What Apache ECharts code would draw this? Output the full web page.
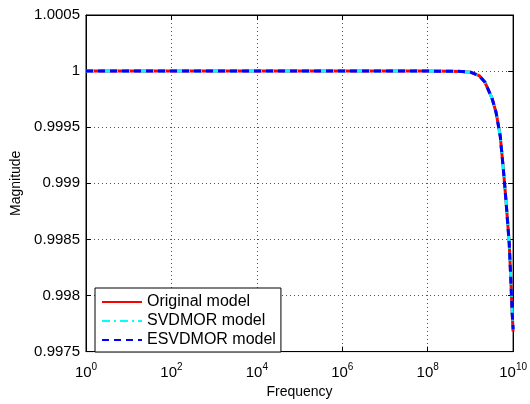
<!DOCTYPE html>
<html>
<head>
<meta charset="utf-8">
<script src="https://cdn.jsdelivr.net/npm/echarts@6/dist/echarts.min.js"></script>
<style>
html, body { margin: 0; padding: 0; background: #fff; }
#main { width: 530px; height: 404px; }
</style>
</head>
<body>
<div id="main"></div>
<script>
// frequencies (Hz) and magnitudes
var freq = [1, 10, 100, 1e3, 1e4, 1e5, 1e6, 1e7, 1e8, 3.2e8, 6.3e8, 1e9, 1.6e9, 2.2e9,
  3.2e9, 4e9, 5e9, 5.9e9, 6.9e9, 8.1e9, 8.9e9, 9.5e9, 1e10];
var original = [1, 1, 1, 1, 1, 1, 1, 1, 1, 0.999999, 0.999997, 0.99999, 0.99996, 0.99990,
  0.99976, 0.99963, 0.99942, 0.99913, 0.99882, 0.99847, 0.99812, 0.99785, 0.99768];
var svdmor = [1, 1, 1, 1, 1, 1, 1, 1, 1, 0.999999, 0.999997, 0.99999, 0.99996, 0.99990,
  0.99976, 0.99963, 0.99942, 0.99913, 0.99882, 0.99847, 0.99812, 0.99785, 0.99770];
var esvdmor = [1, 1, 1, 1, 1, 1, 1, 1, 1, 0.999999, 0.999997, 0.99999, 0.99996, 0.99990,
  0.99976, 0.99963, 0.99942, 0.99913, 0.99882, 0.99847, 0.99812, 0.99785, 0.99770];
var seriesNames = ['Original model', 'SVDMOR model', 'ESVDMOR model'];

var chart = echarts.init(document.getElementById('main'));
var font = 'Liberation Sans, Arial, sans-serif';

function pairs(vals) {
  return freq.map(function (f, i) { return [f, vals[i]]; });
}

var tick = { show: true, inside: true, length: 5, lineStyle: { color: '#000', width: 1 } };
var dotted = { show: true, lineStyle: { color: '#555', type: [1, 3], width: 1 } };

var option = {
  backgroundColor: '#fff',
  animation: false,
  textStyle: { fontFamily: font },
  grid: { left: 86, right: 15, top: 15, bottom: 47, show: true, borderColor: '#000', borderWidth: 1 },
  legend: {
    data: seriesNames.map(function (n) { return { name: n, itemStyle: { opacity: 0 } }; }),
    orient: 'vertical',
    left: 95, top: 288,
    itemWidth: 40, itemHeight: 14,
    itemGap: 3,
    padding: [6, 5, 4, 6],
    backgroundColor: '#fff',
    borderColor: '#000', borderWidth: 1,
    textStyle: { fontFamily: font, fontSize: 16, color: '#000' }
  },
  xAxis: [{
    type: 'log', logBase: 10,
    min: 1, max: 1e10, interval: 2,
    name: 'Frequency', nameLocation: 'middle', nameGap: 31,
    nameTextStyle: { fontSize: 14, color: '#000', fontFamily: font },
    axisLine: { show: true, lineStyle: { color: '#000', width: 1 } },
    axisTick: tick,
    minorTick: { show: false },
    splitLine: dotted,
    axisLabel: {
      color: '#000', fontSize: 15, margin: 11,
      formatter: function (v) {
        var e = Math.round(Math.log10(v));
        return '{b|10}{s|' + e + '}';
      },
      rich: {
        b: { fontSize: 15, color: '#000', fontFamily: font },
        s: { fontSize: 10, color: '#000', fontFamily: font, padding: [0, 0, 10, 0] }
      }
    }
  }, {
    type: 'log', logBase: 10, position: 'top',
    min: 1, max: 1e10, interval: 2,
    axisLine: { show: true, lineStyle: { color: '#000' } },
    axisTick: tick, axisLabel: { show: false }, splitLine: { show: false }
  }],
  yAxis: [{
    type: 'value',
    min: 0.9975, max: 1.0005, interval: 0.0005,
    name: 'Magnitude', nameLocation: 'middle', nameGap: 56,
    nameTextStyle: { fontSize: 14, color: '#000', fontFamily: font },
    axisLine: { show: true, lineStyle: { color: '#000', width: 1 } },
    axisTick: tick,
    splitLine: dotted,
    axisLabel: {
      color: '#000', fontSize: 15, margin: 6, fontFamily: font,
      formatter: function (v) { return String(parseFloat(v.toFixed(4))); }
    }
  }, {
    type: 'value', position: 'right',
    min: 0.9975, max: 1.0005, interval: 0.0005,
    axisLine: { show: true, lineStyle: { color: '#000' } },
    axisTick: tick, axisLabel: { show: false }, splitLine: { show: false }
  }],
  series: [{
    name: seriesNames[0], type: 'line', symbol: 'none',
    data: pairs(original),
    lineStyle: { color: '#ff0000', width: 3, type: 'solid' },
    itemStyle: { color: '#ff0000' }
  }, {
    name: seriesNames[1], type: 'line', symbol: 'none',
    data: pairs(svdmor),
    lineStyle: { color: '#00ffff', width: 3, type: [8, 4, 2, 4] },
    itemStyle: { color: '#00ffff' }
  }, {
    name: seriesNames[2], type: 'line', symbol: 'none',
    data: pairs(esvdmor),
    lineStyle: { color: '#0000ff', width: 3, type: [7, 5] },
    itemStyle: { color: '#0000ff' }
  }]
};
chart.setOption(option);
</script>
</body>
</html>
